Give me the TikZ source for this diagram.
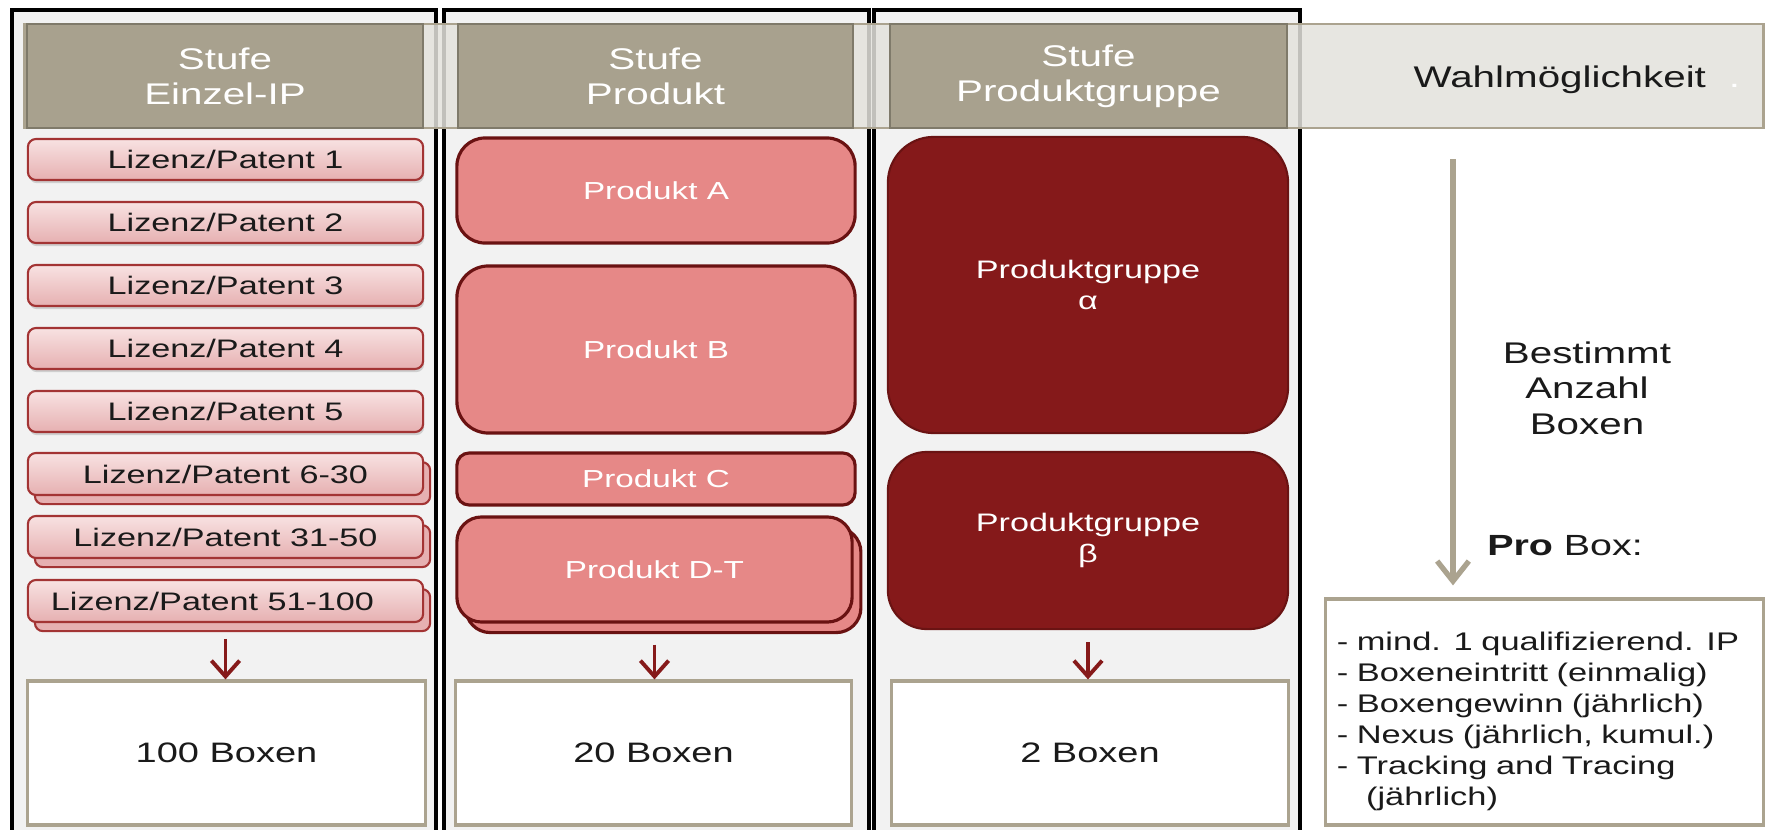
\documentclass[tikz,border=0pt]{standalone}
\usepackage{fontspec}
\setmainfont[FakeStretch=1.35]{Liberation Sans}
\usetikzlibrary{arrows.meta,shadows}
\definecolor{hdr}{HTML}{A8A18E}
\definecolor{hdrborder}{HTML}{7F7A6A}
\definecolor{bandfill}{HTML}{E3E2DC}
\definecolor{tan}{HTML}{ABA38F}
\definecolor{colbg}{HTML}{F2F2F2}
\definecolor{lizred}{HTML}{A33434}
\definecolor{liztop}{HTML}{F8E2E2}
\definecolor{lizbot}{HTML}{E6B0B1}
\definecolor{prod}{HTML}{E68887}
\definecolor{prodborder}{HTML}{6A1212}
\definecolor{grp}{HTML}{85191A}
\definecolor{grpborder}{HTML}{6A1313}
\definecolor{arrowred}{HTML}{861A1A}
\definecolor{ink}{HTML}{1A1A1A}
\newcommand\placebox[7]{%
  \pgfmathsetmacro\pbW{(#4-#2)/10}%
  \pgfmathsetmacro\pbH{(#5-#3)/10}%
  \pgfmathsetmacro\pbX{(#2+#4)/2}%
  \pgfmathsetmacro\pbY{(#3+#5)/2}%
  \node[#6, minimum width=\pbW mm, minimum height=\pbH mm] (#1) at (\pbX,\pbY) {#7};}
\tikzset{
  colframe/.style={draw=black, line width=1.1pt, fill=colbg, inner sep=0pt},
  bandbox/.style={draw=tan, line width=0.8pt, fill=bandfill, fill opacity=0.85, inner sep=0pt},
  hdrbox/.style={draw=hdrborder, line width=0.6pt, fill=hdr, text=white, align=center, font=\fontsize{8.5}{10}\selectfont, inner sep=0pt},
  liz/.style={draw=lizred, line width=0.6pt, top color=liztop, bottom color=lizbot, rounded corners=2.3pt, font=\fontsize{7.2}{8.6}\selectfont, text=ink, inner sep=0pt},
  lizshadow/.style={drop shadow={shadow xshift=0.3pt, shadow yshift=-0.9pt, opacity=0.3}},
  lizstack/.style={copy shadow={shadow xshift=2pt, shadow yshift=-2.6pt, fill=lizbot, draw=lizred, line width=0.6pt}},
  prodbox/.style={draw=prodborder, line width=0.9pt, fill=prod, text=white, font=\fontsize{7}{8.4}\selectfont, inner sep=0pt},
  grpbox/.style={draw=grpborder, line width=0.6pt, fill=grp, text=white, align=center, font=\fontsize{7.2}{9}\selectfont, inner sep=0pt},
  countbox/.style={draw=tan, line width=0.9pt, fill=white, text=ink, font=\fontsize{8}{9.6}\selectfont, inner sep=0pt},
  redarrow/.style={draw=arrowred, line width=1.1pt, -{Straight Barb[length=4.5pt,width=8pt]}},
  tanarrow/.style={draw=tan, line width=1.5pt, -{Straight Barb[length=5.7pt,width=9pt]}},
}
\begin{document}
\begin{tikzpicture}[x=0.01cm, y=-0.01cm]
\useasboundingbox (0,0) rectangle (1768,830);
\clip (0,0) rectangle (1768,830);
\fill[white] (0,0) rectangle (1768,830);
% columns
\placebox{c1}{12}{10}{436}{860}{colframe}{}
\placebox{c2}{444}{10}{869}{860}{colframe}{}
\placebox{c3}{874}{10}{1300}{860}{colframe}{}
% header band
\placebox{wahl}{25}{24}{1763}{128}{bandbox}{}
\node[anchor=base west, font=\fontsize{8.5}{10}\selectfont, text=ink, inner sep=0pt] (wahltxt) at (1413,87) {Wahlmöglichkeit\hspace{6.5pt}\textcolor{white}{.}};
\placebox{h1}{27}{24}{423}{128}{hdrbox}{Stufe\\Einzel-IP}
\placebox{h2}{458}{24}{853}{128}{hdrbox}{Stufe\\Produkt}
\placebox{h3}{890}{24}{1287}{128}{hdrbox}{Stufe\\Produktgruppe}
% column 1
\placebox{l1}{28}{139}{423}{180}{liz,lizshadow}{Lizenz/Patent 1}
\placebox{l2}{28}{202}{423}{243}{liz,lizshadow}{Lizenz/Patent 2}
\placebox{l3}{28}{265}{423}{306}{liz,lizshadow}{Lizenz/Patent 3}
\placebox{l4}{28}{328}{423}{369}{liz,lizshadow}{Lizenz/Patent 4}
\placebox{l5}{28}{391}{423}{432}{liz,lizshadow}{Lizenz/Patent 5}
\placebox{l6}{28}{453}{423}{495}{liz,lizstack}{Lizenz/Patent 6-30}
\placebox{l7}{28}{516}{423}{558}{liz,lizstack}{Lizenz/Patent 31-50}
\placebox{l8}{28}{580}{423}{622}{liz,lizstack}{Lizenz/Patent 51-100\hspace*{7.4pt}}
% column 2
\placebox{pa}{457}{138}{855}{243}{prodbox,rounded corners=8pt}{Produkt A}
\placebox{pb}{457}{266}{855}{433}{prodbox,rounded corners=9pt}{Produkt B}
\placebox{pc}{457}{453}{855}{505}{prodbox,rounded corners=3.5pt}{Produkt C}
\placebox{pd}{457}{517}{852}{622}{prodbox,rounded corners=7pt,copy shadow={shadow xshift=2.5pt, shadow yshift=-3pt, fill=prod, draw=prodborder, line width=0.9pt}}{Produkt D-T}
% column 3
\placebox{ga}{888}{137}{1288}{433}{grpbox,rounded corners=13pt}{Produktgruppe\\α}
\placebox{gb}{888}{452}{1288}{629}{grpbox,rounded corners=11pt}{Produktgruppe\\β}
% count boxes
\placebox{b1}{28}{681}{425}{825}{countbox}{100 Boxen}
\placebox{b2}{456}{681}{851}{825}{countbox}{20 Boxen}
\placebox{b3}{892}{681}{1288}{825}{countbox}{2 Boxen}
\draw[redarrow, shorten <=4.5pt] (l8.south) -- (l8.south |- b1.north);
\draw[redarrow, shorten <=6pt] (pd.south) -- (pd.south |- b2.north);
\draw[redarrow, shorten <=3.4pt] (gb.south) -- (gb.south |- b3.north);
% right side
\node[align=center, font=\fontsize{8.5}{10.1}\selectfont, text=ink, inner sep=0pt] (best) at (1587,388) {Bestimmt\\Anzahl\\Boxen};
\node[anchor=base, font=\fontsize{8.3}{10}\selectfont, text=ink, inner sep=0pt] (pro) at (1565,555) {\textbf{Pro} Box:};
\placebox{list}{1326}{599}{1763}{825}{countbox, align=left, text width=41.5mm, font=\fontsize{7.25}{8.8}\selectfont}{\rule{0pt}{10.5pt}- mind. 1 qualifizierend. IP\\- Boxeneintritt (einmalig)\\- Boxengewinn (jährlich)\\- Nexus (jährlich, kumul.)\\- Tracking and Tracing\\\hspace*{8.3pt}(jährlich)}
\coordinate (tx) at (1453,0);
\draw[tanarrow, shorten <=8.5pt, shorten >=3.4pt] (wahl.south -| tx) -- (list.north -| tx);
\end{tikzpicture}
\end{document}
